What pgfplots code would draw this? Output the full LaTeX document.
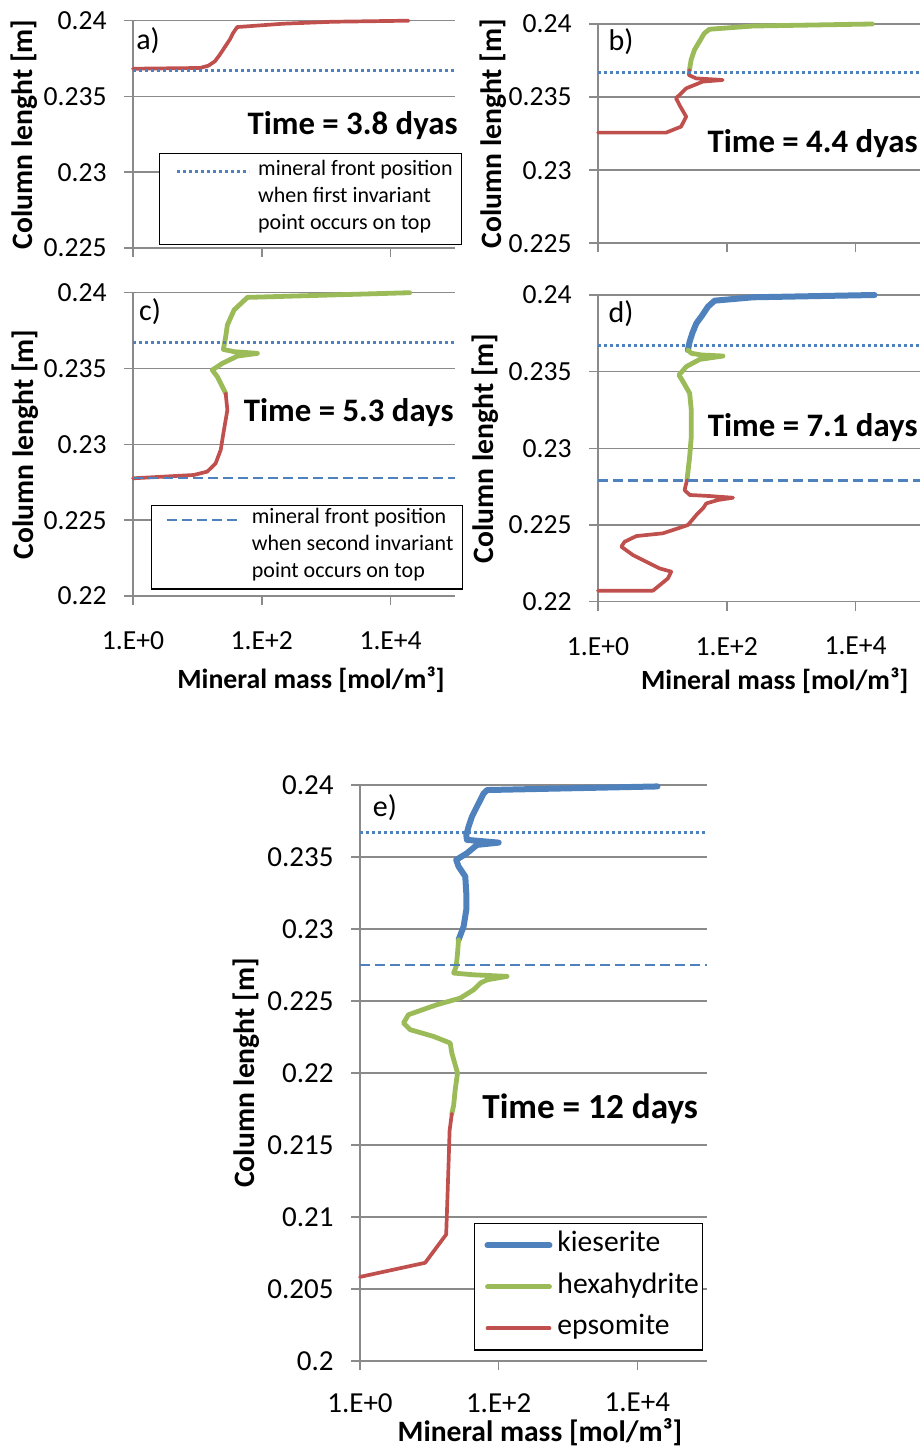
\documentclass[border=0pt]{standalone}
\usepackage{fontspec}
\setmainfont{Carlito}
\usepackage{pgfplots}
\pgfplotsset{compat=1.18}

\definecolor{kblue}{HTML}{4F81BD}
\definecolor{hgreen}{HTML}{9BBB59}
\definecolor{ered}{HTML}{C0504D}
\definecolor{gridgray}{HTML}{8A8A8A}

% series and front-line styles (plain TikZ keys)
\tikzset{
  kies/.style={color=kblue, line width=3pt, line cap=round, line join=round},
  hexa/.style={color=hgreen, line width=2.4pt, line cap=round, line join=round},
  epso/.style={color=ered, line width=1.85pt, line cap=round, line join=round},
  front1/.style={color=kblue, line width=1.3pt, dash pattern=on 1.4pt off 1.6pt},
  front2/.style={color=kblue, line width=1.15pt, dash pattern=on 5pt off 2.5pt},
}

% common look of all five panels
\pgfplotsset{every axis/.append style={
    scale only axis, width=161pt,
    xmode=log, xmin=1, xmax=1e5,
    xtick={1,100,10000}, xminorticks=false, yminorticks=false,
    axis lines*=left, axis line style={gridgray, line width=0.8pt},
    ymajorgrids, grid style={gridgray, line width=0.8pt},
    tick align=outside, major tick length=4.5pt,
    tick style={gridgray, line width=0.8pt},
    yticklabel style={anchor=east, inner sep=0pt, xshift=-8.5pt},
    xticklabel style={anchor=north, inner sep=0pt, yshift=-13pt},
    tick label style={font=\fontsize{13.8}{16}\selectfont, text=black},
    label style={font=\bfseries\fontsize{14.8}{17}\selectfont, text=black},
    ylabel={Column lenght [m]},
    clip=false,
  }
}

\begin{document}
\begin{tikzpicture}
\useasboundingbox (0pt,0pt) rectangle (461.5pt,724pt);

% a) 3.8 days
\begin{axis}[at={(66.5pt,600pt)}, anchor=south west, height=113.65pt,
  ymin=0.225, ymax=0.24, ytick={0.225,0.23,0.235,0.24},
  yticklabels={0.225,0.23,0.235,0.24}, xticklabels={\empty,\empty,\empty},
  ylabel style={at={([xshift=-54.5pt]axis description cs:0,0.5)}, anchor=center},
  legend cell align=left,
  legend style={at={(axis description cs:0.0807,0.4193)}, anchor=north west,
    draw=black, line width=0.6pt, fill=white, inner xsep=4.5pt, inner ysep=2.5pt,
    font=\fontsize{11}{13}\selectfont, column sep=3.5pt, row sep=0pt,
    nodes={inner sep=0pt, text height=8.5pt, text depth=5pt, text=black}},
  legend image code/.code={\path (0pt,0pt) (40pt,0pt); \draw[#1] (3.5pt,0pt) -- (39.5pt,0pt);}]
\addplot[epso, forget plot] coordinates {(1,0.23683) (11.0,0.23688) (14.8,0.23703)
  (18.7,0.23732) (22.3,0.23776) (25.1,0.23809) (31.8,0.23875) (35.9,0.23919)
  (41.5,0.23958) (213,0.2398) (1260,0.23993) (19000,0.24)};
\addplot[front1] coordinates {(1,0.2367) (100000,0.2367)};
\addlegendentry{mineral front position}
\addlegendimage{empty legend}
\addlegendentry{when first invariant}
\addlegendimage{empty legend}
\addlegendentry{point occurs on top}
\end{axis}

% b) 4.4 days
\begin{axis}[at={(299pt,602.35pt)}, anchor=south west, height=109.65pt,
  ymin=0.225, ymax=0.24, ytick={0.225,0.23,0.235,0.24},
  yticklabels={0.225,0.23,0.235,0.24}, xticklabels={\empty,\empty,\empty},
  ylabel style={at={([xshift=-52.5pt]axis description cs:0,0.5)}, anchor=center}]
\addplot[hexa] coordinates {(18200,0.24) (251,0.23986) (53.7,0.23964) (44.7,0.23936)
  (37.5,0.23879) (31.4,0.23822) (27.9,0.23754) (26.3,0.23685)};
\addplot[epso] coordinates {(26.3,0.23685) (25.7,0.23651) (33.3,0.23628) (86.5,0.23617)
  (42.5,0.23606) (23.4,0.2356) (16.3,0.23492) (18.4,0.23446) (23.4,0.23366)
  (19.5,0.23298) (11.4,0.23257) (1,0.23257)};
\addplot[front1] coordinates {(1,0.2367) (100000,0.2367)};
\end{axis}

% c) 5.3 days
\begin{axis}[at={(66.5pt,426pt)}, anchor=south west, height=151.65pt,
  ymin=0.22, ymax=0.24, ytick={0.22,0.225,0.23,0.235,0.24},
  yticklabels={0.22,0.225,0.23,0.235,0.24}, xticklabels={1.E+0,1.E+2,1.E+4},
  xlabel={Mineral mass [mol/m³]},
  xlabel style={at={([yshift=-42pt]axis description cs:0.553,0)}, anchor=center,
    font=\bfseries\fontsize{13.9}{16}\selectfont},
  ylabel style={at={([xshift=-54pt]axis description cs:0,0.5)}, anchor=center},
  legend cell align=left,
  legend style={at={(axis description cs:0.0559,0.3003)}, anchor=north west,
    draw=black, line width=0.6pt, fill=white, inner xsep=4.5pt, inner ysep=0.6pt,
    font=\fontsize{11}{13}\selectfont, column sep=3.5pt, row sep=0pt,
    nodes={inner sep=0pt, text height=8.5pt, text depth=5pt, text=black}},
  legend image code/.code={\path (0pt,0pt) (41pt,0pt); \draw[#1] (2.5pt,0pt) -- (39pt,0pt);}]
\addplot[hexa, forget plot] coordinates {(19800,0.24) (59.8,0.23969) (37.1,0.23886)
  (29.2,0.23787) (27.5,0.2371) (25.3,0.23626) (37.1,0.23611) (85.5,0.236)
  (41.8,0.23582) (24.4,0.23534) (17.0,0.2349) (20.4,0.23446) (27.5,0.23336)};
\addplot[epso, forget plot] coordinates {(27.5,0.23336) (29.2,0.23226) (25.3,0.23072)
  (23.0,0.22963) (19.2,0.22875) (14.2,0.2282) (8.8,0.22798) (1,0.22776)};
\addplot[front1, forget plot] coordinates {(1,0.2367) (100000,0.2367)};
\addplot[front2] coordinates {(1,0.2278) (100000,0.2278)};
\addlegendentry{mineral front position}
\addlegendimage{empty legend}
\addlegendentry{when second invariant}
\addlegendimage{empty legend}
\addlegendentry{point occurs on top}
\end{axis}

% d) 7.1 days
\begin{axis}[at={(299pt,423.15pt)}, anchor=south west, height=153.35pt,
  ymin=0.22, ymax=0.24, ytick={0.22,0.225,0.23,0.235,0.24},
  yticklabels={0.22,0.225,0.23,0.235,0.24}, xticklabels={1.E+0,1.E+2,1.E+4},
  xlabel={Mineral mass [mol/m³]},
  xlabel style={at={([yshift=-39.5pt]axis description cs:0.549,0)}, anchor=center,
    font=\bfseries\fontsize{13.9}{16}\selectfont},
  ylabel style={at={([xshift=-56.5pt]axis description cs:0,0.5)}, anchor=center}]
\addplot[kies] coordinates {(19700,0.24) (255,0.23985) (64.7,0.23963) (51.0,0.23924)
  (40.2,0.23859) (33.6,0.23815) (29.1,0.2375) (26.5,0.23696) (24.9,0.23641)};
\addplot[hexa] coordinates {(24.9,0.23641) (28.1,0.2362) (40.2,0.23609) (87.1,0.23602)
  (37.9,0.2358) (23.5,0.23533) (18.1,0.23478) (20.9,0.23435) (26.5,0.23359)
  (28.1,0.2325) (28.1,0.23076) (26.5,0.22946) (24.1,0.22793)};
\addplot[epso] coordinates {(24.1,0.22793) (22.1,0.22728) (26.5,0.22696) (54.1,0.22689)
  (125,0.22678) (72.9,0.22663) (48.1,0.22641) (42.7,0.22609) (33.6,0.22565)
  (24.9,0.225) (10.2,0.22446) (3.94,0.22428) (2.59,0.22391) (2.30,0.22359)
  (3.49,0.22304) (9.06,0.22217) (13.7,0.22196) (12.2,0.22152) (7.14,0.22072)
  (1,0.22072)};
\addplot[front1] coordinates {(1,0.2367) (100000,0.2367)};
\addplot[front2] coordinates {(1,0.2279) (100000,0.2279)};
\end{axis}

% e) 12 days
\begin{axis}[at={(180pt,43.5pt)}, anchor=south west, width=173.35pt, height=288pt,
  ymin=0.2, ymax=0.24, ytick={0.2,0.205,0.21,0.215,0.22,0.225,0.23,0.235,0.24},
  yticklabels={0.2,0.205,0.21,0.215,0.22,0.225,0.23,0.235,0.24},
  xticklabels={1.E+0,1.E+2,1.E+4},
  tick label style={font=\fontsize{14.5}{17}\selectfont},
  xticklabel style={yshift=1.6pt},
  xlabel={Mineral mass [mol/m³]},
  xlabel style={at={([yshift=-35.4pt]axis description cs:0.519,0)}, anchor=center},
  ylabel style={at={([xshift=-56.75pt]axis description cs:0,0.5)}, anchor=center},
  legend cell align=left,
  legend style={at={(axis description cs:0.3285,0.2396)}, anchor=north west,
    draw=black, line width=0.6pt, fill=white, inner xsep=2pt, inner ysep=0.5pt,
    font=\fontsize{14.8}{18}\selectfont, column sep=2pt, row sep=0pt,
    nodes={inner sep=0pt, text height=13.5pt, text depth=7.25pt, text=black}},
  legend image code/.code={\path (0pt,0pt) (34.5pt,0pt); \draw[#1] (3pt,0pt) -- (34pt,0pt);}]
\addplot[kies] coordinates {(19500,0.2399) (67.8,0.23965) (60.7,0.23942) (48.6,0.2385)
  (41.1,0.2378) (36.8,0.23711) (34.1,0.23653) (34.8,0.23619) (100,0.236)
  (48.6,0.23584) (34.8,0.23526) (24.4,0.2348) (26.4,0.23434) (33.0,0.23364)
  (34.1,0.23249) (34.1,0.23133) (31.2,0.23017) (26.4,0.22925)};
\addlegendentry{kieserite}
\addplot[hexa] coordinates {(26.4,0.22925) (25.5,0.22832) (24.4,0.2274) (22.4,0.22694)
  (43.5,0.22682) (132,0.22671) (67.8,0.22647) (54.3,0.22624) (43.5,0.22578)
  (27.9,0.2252) (12.8,0.22474) (5.0,0.22405) (4.24,0.22347) (5.28,0.22301)
  (11.5,0.22254) (20.0,0.22208) (21.1,0.22139) (25.5,0.22) (23.6,0.21884)
  (22.4,0.21775) (21.1,0.21717)};
\addlegendentry{hexahydrite}
\addplot[epso] coordinates {(21.1,0.21717) (19.6,0.216) (18.9,0.21356) (17.5,0.20879)
  (8.7,0.20682) (1,0.20584)};
\addlegendentry{epsomite}
\addplot[front1, forget plot] coordinates {(1,0.2367) (100000,0.2367)};
\addplot[front2, forget plot] coordinates {(1,0.2275) (100000,0.2275)};
\end{axis}

% panel letters and elapsed times
\begin{scope}[font=\fontsize{15}{18}\selectfont, text=black]
\node[anchor=center] at (74pt,703.5pt) {a)};
\node[anchor=center] at (310.5pt,703pt) {b)};
\node[anchor=center] at (75pt,568pt) {c)};
\node[anchor=center] at (310.5pt,567pt) {d)};
\node[anchor=center] at (192.5pt,320pt) {e)};
\end{scope}
\begin{scope}[font=\bfseries\fontsize{16.4}{19}\selectfont, text=black, inner sep=0pt]
\node[anchor=base east] at (229pt,656.75pt) {Time = 3.8 dyas};
\node[anchor=base east] at (459pt,647.75pt) {Time = 4.4 dyas};
\node[anchor=base east] at (227pt,513.15pt) {Time = 5.3 days};
\node[anchor=base east] at (459pt,505.65pt) {Time = 7.1 days};
\node[anchor=base east, font=\bfseries\fontsize{17.6}{20}\selectfont] at (349.2pt,164.5pt) {Time = 12 days};
\end{scope}
\end{tikzpicture}
\end{document}
